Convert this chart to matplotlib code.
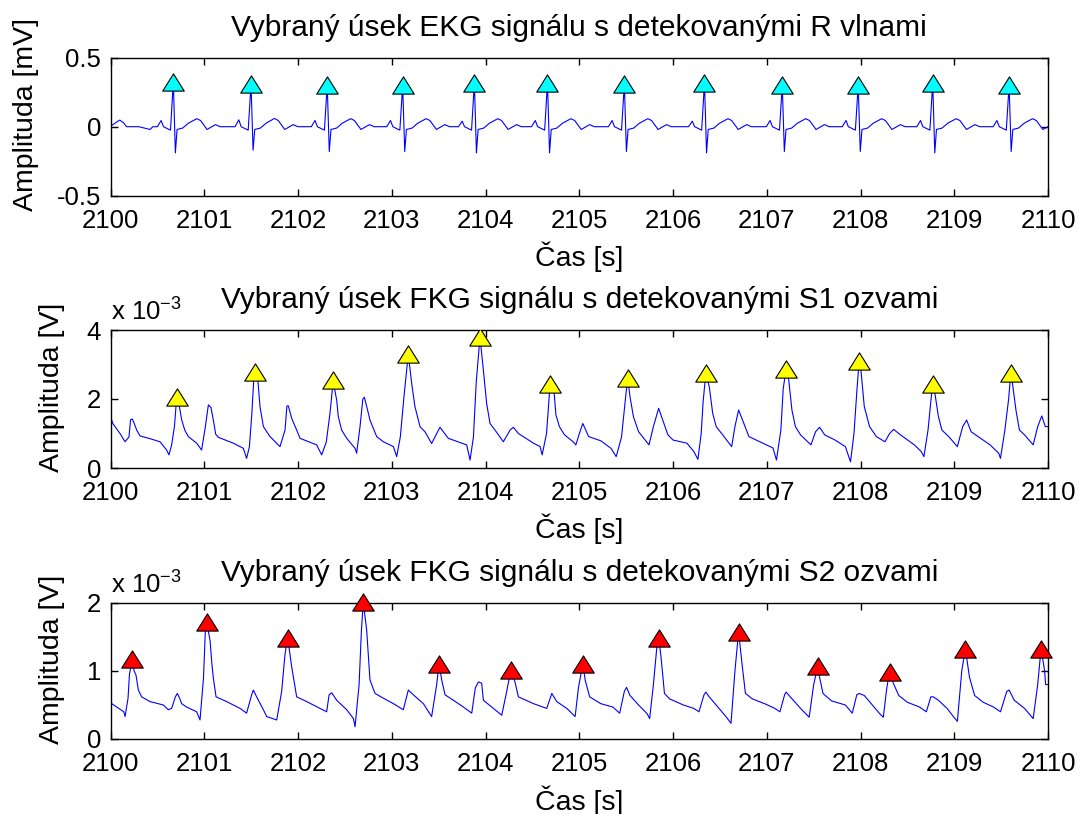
import matplotlib
matplotlib.use("Agg")
import matplotlib.pyplot as plt
from matplotlib.path import Path
from matplotlib.ticker import FuncFormatter

plt.rcParams['font.family'] = ['Liberation Sans', 'DejaVu Sans']
plt.rcParams['mathtext.fontset'] = 'custom'
plt.rcParams['mathtext.rm'] = 'Liberation Sans'
plt.rcParams['mathtext.it'] = 'Liberation Sans'
plt.rcParams['axes.unicode_minus'] = False

T0 = 2100
x_ticks = list(range(2100, 2111))

titles = ["Vybraný úsek EKG signálu s detekovanými R vlnami",
          "Vybraný úsek FKG signálu s detekovanými S1 ozvami",
          "Vybraný úsek FKG signálu s detekovanými S2 ozvami"]
ylabels = ["Amplituda [mV]", "Amplituda [V]", "Amplituda [V]"]
xlabel = "Čas [s]"

# ---------------- EKG signal (time since 2100 s, mV) ----------------
ekg_t = [0.000, 0.045, 0.096, 0.135, 0.170, 0.300, 0.420, 0.450,
         0.498, 0.538, 0.563, 0.638, 0.668, 0.690, 0.708, 0.768, 0.828, 0.918, 0.958, 1.028, 1.118, 1.168,
         1.327, 1.367, 1.392, 1.467, 1.497, 1.519, 1.537, 1.597, 1.657, 1.747, 1.787, 1.857, 1.947, 1.997,
         2.140, 2.180, 2.205, 2.280, 2.310, 2.332, 2.350, 2.410, 2.470, 2.560, 2.600, 2.670, 2.760, 2.810,
         2.945, 2.985, 3.010, 3.085, 3.115, 3.137, 3.155, 3.215, 3.275, 3.365, 3.405, 3.475, 3.565, 3.615,
         3.710, 3.750, 3.775, 3.850, 3.880, 3.902, 3.920, 3.980, 4.040, 4.130, 4.170, 4.240, 4.330, 4.380,
         4.490, 4.530, 4.555, 4.630, 4.660, 4.682, 4.700, 4.760, 4.820, 4.910, 4.950, 5.020, 5.110, 5.160,
         5.310, 5.350, 5.375, 5.450, 5.480, 5.502, 5.520, 5.580, 5.640, 5.730, 5.770, 5.840, 5.930, 5.980,
         6.165, 6.205, 6.230, 6.305, 6.335, 6.357, 6.375, 6.435, 6.495, 6.585, 6.625, 6.695, 6.785, 6.835,
         6.995, 7.035, 7.060, 7.135, 7.165, 7.187, 7.205, 7.265, 7.325, 7.415, 7.455, 7.525, 7.615, 7.665,
         7.805, 7.845, 7.870, 7.945, 7.975, 7.997, 8.015, 8.075, 8.135, 8.225, 8.265, 8.335, 8.425, 8.475,
         8.600, 8.640, 8.665, 8.740, 8.770, 8.792, 8.810, 8.870, 8.930, 9.020, 9.060, 9.130, 9.220, 9.270,
         9.415, 9.455, 9.480, 9.555, 9.585, 9.607, 9.625, 9.685, 9.745, 9.835, 9.875, 9.945, 10.000]
ekg_v = [0.005, 0.025, 0.048, 0.030, 0.000, 0.000, -0.020, 0.000,
         0.000, 0.045, 0.000, -0.025, 0.326, -0.190, -0.020, -0.010, 0.025, 0.058, 0.045, -0.020, 0.015, 0.000,
         0.000, 0.050, 0.000, -0.025, 0.311, -0.170, -0.020, -0.010, 0.025, 0.060, 0.045, -0.020, 0.015, 0.000,
         0.000, 0.045, 0.000, -0.025, 0.300, -0.180, -0.020, -0.010, 0.025, 0.058, 0.045, -0.020, 0.015, 0.000,
         0.000, 0.045, 0.000, -0.025, 0.300, -0.180, -0.020, -0.010, 0.025, 0.058, 0.045, -0.020, 0.015, 0.000,
         0.000, 0.040, 0.000, -0.025, 0.320, -0.190, -0.020, -0.010, 0.025, 0.058, 0.045, -0.020, 0.015, 0.000,
         0.000, 0.045, 0.000, -0.025, 0.320, -0.190, -0.020, -0.010, 0.025, 0.058, 0.045, -0.020, 0.015, 0.000,
         0.000, 0.045, 0.000, -0.025, 0.310, -0.180, -0.020, -0.010, 0.025, 0.058, 0.045, -0.020, 0.015, 0.000,
         0.000, 0.040, 0.000, -0.025, 0.320, -0.190, -0.020, -0.010, 0.025, 0.058, 0.045, -0.020, 0.015, 0.000,
         0.000, 0.045, 0.000, -0.025, 0.300, -0.180, -0.020, -0.010, 0.025, 0.058, 0.045, -0.020, 0.015, 0.000,
         0.000, 0.045, 0.000, -0.025, 0.300, -0.180, -0.020, -0.010, 0.025, 0.058, 0.045, -0.020, 0.015, 0.000,
         0.000, 0.045, 0.000, -0.025, 0.320, -0.190, -0.020, -0.010, 0.025, 0.058, 0.045, -0.020, 0.015, 0.000,
         0.000, 0.045, 0.000, -0.025, 0.300, -0.180, -0.020, -0.010, 0.025, 0.058, 0.045, -0.020, 0.000]

# detected R waves
r_t = [0.668, 1.497, 2.310, 3.115, 3.880, 4.660, 5.480, 6.335, 7.165, 7.975, 8.770, 9.585]
r_v = [0.326, 0.311, 0.300, 0.300, 0.320, 0.320, 0.310, 0.320, 0.300, 0.300, 0.320, 0.300]

# ---------------- FKG signal, S1 view (time since 2100 s, V x 1e-3) ----------------
fkg1 = [(0.000, 1.49), (0.020, 1.30), (0.099, 1.00), (0.153, 0.76), (0.195, 0.90), (0.212, 1.40),
        (0.231, 1.42), (0.250, 1.30), (0.277, 1.10), (0.313, 0.93), (0.419, 0.85), (0.526, 0.76),
        (0.597, 0.52), (0.622, 0.38), (0.650, 0.67), (0.680, 1.20), (0.697, 1.80), (0.711, 2.05),
        (0.735, 1.75), (0.757, 1.40), (0.790, 1.10), (0.828, 0.91), (0.917, 0.72), (0.970, 0.52),
        (1.010, 1.20), (1.042, 1.83), (1.070, 1.75), (1.095, 1.39), (1.120, 0.98), (1.148, 0.89),
        (1.308, 0.72), (1.415, 0.57), (1.450, 0.28), (1.480, 0.62), (1.504, 1.50), (1.525, 2.50),
        (1.543, 2.79), (1.570, 2.55), (1.593, 1.78), (1.629, 1.20), (1.700, 0.91), (1.806, 0.62),
        (1.860, 1.10), (1.880, 1.80), (1.895, 1.80), (1.931, 1.44), (1.984, 1.10), (2.020, 0.86),
        (2.197, 0.67), (2.251, 0.38), (2.300, 0.75), (2.340, 1.60), (2.375, 2.55), (2.395, 2.20),
        (2.411, 1.97), (2.428, 1.49), (2.464, 1.10), (2.518, 0.86), (2.607, 0.57), (2.624, 0.43),
        (2.660, 1.20), (2.690, 2.00), (2.706, 2.05), (2.730, 1.80), (2.766, 1.39), (2.838, 0.91),
        (2.909, 0.76), (3.016, 0.62), (3.051, 0.33), (3.090, 0.90), (3.130, 2.10), (3.175, 3.30),
        (3.211, 2.45), (3.246, 1.78), (3.300, 1.20), (3.353, 1.05), (3.424, 0.71), (3.478, 1.00),
        (3.513, 1.18), (3.549, 1.05), (3.602, 0.86), (3.798, 0.67), (3.834, 0.23), (3.870, 0.90),
        (3.900, 2.50), (3.940, 3.79), (3.976, 2.84), (4.011, 1.87), (4.047, 1.29), (4.100, 1.10),
        (4.189, 0.76), (4.261, 1.10), (4.296, 1.18), (4.350, 1.00), (4.510, 0.72), (4.581, 0.62),
        (4.603, 0.38), (4.650, 1.00), (4.688, 2.43), (4.732, 2.15), (4.750, 1.54), (4.787, 1.20),
        (4.842, 0.96), (4.934, 0.76), (4.963, 0.67), (5.000, 1.00), (5.037, 1.29), (5.099, 0.91),
        (5.228, 0.79), (5.338, 0.57), (5.393, 0.33), (5.450, 0.90), (5.480, 1.70), (5.515, 2.62),
        (5.540, 2.07), (5.577, 1.49), (5.632, 1.05), (5.743, 0.67), (5.790, 1.20), (5.846, 1.73),
        (5.890, 1.39), (5.945, 0.96), (6.000, 0.81), (6.147, 0.72), (6.221, 0.48), (6.265, 0.25),
        (6.300, 1.00), (6.320, 1.90), (6.349, 2.74), (6.386, 2.36), (6.423, 1.58), (6.460, 1.20),
        (6.515, 1.01), (6.625, 0.62), (6.660, 1.20), (6.699, 1.68), (6.754, 1.30), (6.809, 0.91),
        (6.919, 0.77), (7.066, 0.58), (7.103, 0.23), (7.150, 1.10), (7.175, 2.30), (7.206, 2.87),
        (7.232, 2.60), (7.268, 1.68), (7.305, 1.20), (7.360, 0.96), (7.471, 0.67), (7.520, 1.05),
        (7.563, 1.18), (7.618, 0.96), (7.728, 0.81), (7.838, 0.62), (7.893, 0.18), (7.930, 1.00),
        (7.960, 2.20), (7.985, 3.11), (8.004, 2.84), (8.040, 1.78), (8.096, 1.20), (8.169, 0.91),
        (8.261, 0.76), (8.310, 1.00), (8.353, 1.12), (8.426, 0.96), (8.574, 0.67), (8.647, 0.48),
        (8.676, 0.33), (8.720, 1.10), (8.768, 2.43), (8.794, 2.15), (8.831, 1.49), (8.868, 1.10),
        (8.941, 0.91), (9.033, 0.62), (9.090, 1.20), (9.132, 1.39), (9.180, 1.05), (9.254, 0.91),
        (9.382, 0.67), (9.474, 0.43), (9.493, 0.28), (9.540, 1.10), (9.580, 2.00), (9.603, 2.74),
        (9.621, 2.45), (9.658, 1.68), (9.695, 1.10), (9.750, 0.96), (9.842, 0.67), (9.890, 1.20),
        (9.934, 1.51), (9.971, 1.20), (10.000, 1.20)]

# detected S1 sounds (V x 1e-3)
s1_t = [0.711, 1.543, 2.375, 3.175, 3.940, 4.688, 5.515, 6.349, 7.206, 7.985, 8.768, 9.603]
s1_v = [2.05, 2.79, 2.55, 3.30, 3.79, 2.43, 2.62, 2.74, 2.87, 3.11, 2.43, 2.74]

# ---------------- FKG signal, S2 view (time since 2100 s, V x 1e-3) ----------------
fkg2 = [(0.000, 0.53), (0.064, 0.47), (0.140, 0.40), (0.153, 0.33), (0.185, 0.60), (0.200, 0.95),
        (0.231, 1.17), (0.250, 1.00), (0.270, 0.94), (0.295, 0.72), (0.330, 0.62), (0.419, 0.55),
        (0.562, 0.50), (0.615, 0.43), (0.650, 0.45), (0.690, 0.62), (0.711, 0.67), (0.735, 0.60),
        (0.757, 0.52), (0.810, 0.47), (0.917, 0.40), (0.953, 0.28), (0.990, 0.90), (1.010, 1.60),
        (1.024, 1.72), (1.060, 1.45), (1.080, 1.10), (1.095, 0.90), (1.124, 0.62), (1.237, 0.55),
        (1.380, 0.45), (1.450, 0.38), (1.504, 0.65), (1.522, 0.72), (1.557, 0.62), (1.629, 0.43),
        (1.664, 0.33), (1.771, 0.28), (1.824, 0.70), (1.860, 1.25), (1.888, 1.49), (1.931, 1.06),
        (1.984, 0.62), (2.091, 0.55), (2.233, 0.45), (2.304, 0.40), (2.330, 0.65), (2.358, 0.68),
        (2.411, 0.57), (2.518, 0.43), (2.590, 0.30), (2.607, 0.18), (2.650, 0.80), (2.675, 1.60),
        (2.695, 2.01), (2.731, 1.60), (2.766, 0.87), (2.820, 0.67), (2.909, 0.60), (3.016, 0.52),
        (3.122, 0.43), (3.175, 0.72), (3.229, 0.65), (3.336, 0.52), (3.424, 0.33), (3.478, 0.80),
        (3.503, 1.11), (3.531, 0.87), (3.567, 0.65), (3.656, 0.57), (3.763, 0.47), (3.852, 0.38),
        (3.890, 0.75), (3.923, 0.84), (3.958, 0.82), (3.976, 0.57), (4.083, 0.45), (4.172, 0.35),
        (4.225, 0.70), (4.268, 1.01), (4.313, 0.84), (4.350, 0.62), (4.510, 0.52), (4.652, 0.45),
        (4.706, 0.67), (4.759, 0.55), (4.866, 0.45), (4.955, 0.33), (4.990, 0.75), (5.037, 1.11),
        (5.063, 0.86), (5.110, 0.62), (5.228, 0.52), (5.357, 0.47), (5.430, 0.38), (5.480, 0.70),
        (5.504, 0.76), (5.540, 0.64), (5.632, 0.50), (5.724, 0.37), (5.750, 0.30), (5.790, 0.80),
        (5.830, 1.40), (5.846, 1.49), (5.871, 1.21), (5.908, 0.67), (5.963, 0.59), (6.110, 0.50),
        (6.221, 0.45), (6.276, 0.40), (6.330, 0.65), (6.349, 0.69), (6.386, 0.62), (6.478, 0.47),
        (6.570, 0.32), (6.618, 0.23), (6.660, 1.00), (6.699, 1.58), (6.735, 1.11), (6.772, 0.67),
        (6.846, 0.59), (6.993, 0.51), (7.085, 0.45), (7.140, 0.40), (7.190, 0.65), (7.206, 0.69),
        (7.250, 0.62), (7.360, 0.45), (7.452, 0.32), (7.500, 0.80), (7.544, 1.07), (7.563, 0.91),
        (7.599, 0.67), (7.691, 0.56), (7.838, 0.50), (7.912, 0.38), (7.960, 0.65), (7.985, 0.67),
        (8.040, 0.64), (8.114, 0.52), (8.206, 0.37), (8.243, 0.32), (8.280, 0.75), (8.309, 0.99),
        (8.353, 0.81), (8.408, 0.64), (8.500, 0.54), (8.629, 0.47), (8.702, 0.40), (8.750, 0.62),
        (8.776, 0.62), (8.831, 0.57), (8.923, 0.45), (8.996, 0.32), (9.033, 0.26), (9.080, 1.00),
        (9.118, 1.33), (9.162, 0.91), (9.217, 0.64), (9.309, 0.54), (9.419, 0.47), (9.493, 0.40),
        (9.560, 0.70), (9.585, 0.72), (9.640, 0.57), (9.750, 0.45), (9.842, 0.30), (9.890, 0.80),
        (9.926, 1.33), (9.963, 1.01), (9.975, 0.80), (10.000, 0.80)]

# detected S2 sounds (V x 1e-3)
s2_t = [0.231, 1.024, 1.888, 2.695, 3.503, 4.268, 5.037, 5.846, 6.699, 7.544, 8.309, 9.118, 9.926]
s2_v = [1.17, 1.72, 1.49, 2.01, 1.11, 1.01, 1.11, 1.49, 1.58, 1.07, 0.99, 1.33, 1.33]

# ---------------- drawing ----------------
FS_TICK = 18.5
FS_LAB = 20.5
FS_TITLE = 21.5
W, H = 1084, 814
fig = plt.figure(figsize=(W / 100, H / 100), dpi=100)

left_px, right_px = 110.7, 1048.0
panels_px = [(57.7, 195.7), (330.0, 468.0), (603.0, 739.0)]
axes = []
for top, bot in panels_px:
    ax = fig.add_axes([left_px / W, 1 - bot / H, (right_px - left_px) / W, (bot - top) / H])
    axes.append(ax)

tri = Path([(-1.0, -0.8), (1.0, -0.8), (0.0, 0.8), (-1.0, -0.8)],
           [Path.MOVETO, Path.LINETO, Path.LINETO, Path.CLOSEPOLY])


def style(ax, idx, yfmt, ylim, yticks, ylab_x):
    top, bot = panels_px[idx]
    hpx = bot - top
    ax.set_xlim(2100, 2110)
    ax.set_ylim(*ylim)
    ax.set_xticks(x_ticks)
    ax.set_yticks(yticks)
    ax.yaxis.set_major_formatter(FuncFormatter(yfmt))
    ax.tick_params(direction='in', top=True, right=True, length=5, width=1.0,
                   labelsize=FS_TICK, colors='black')
    ax.tick_params(axis='x', pad=9.5)
    ax.tick_params(axis='y', pad=7)
    for sp in ax.spines.values():
        sp.set_linewidth(1.0)
    ax.set_title(titles[idx], fontsize=FS_TITLE, pad=15.5)
    ax.set_xlabel(xlabel, fontsize=FS_LAB)
    ax.xaxis.set_label_coords(0.5, -46.0 / hpx)
    ax.set_ylabel(ylabels[idx], fontsize=FS_LAB)
    ax.yaxis.set_label_coords(ylab_x, 0.5 + 12.0 / hpx)


# panel 1: EKG
ax = axes[0]
ax.plot([T0 + t for t in ekg_t], ekg_v, color='#0000ff', lw=0.8, zorder=2)
ax.plot([T0 + t for t in r_t], r_v, linestyle='none', marker=tri, markersize=15.5,
        markerfacecolor='#00ffff', markeredgecolor='black', markeredgewidth=0.8, zorder=3)
style(ax, 0, lambda v, p: ('%g' % v), (-0.5, 0.5), [-0.5, 0, 0.5], -0.076)

# panel 2: FKG S1
ax = axes[1]
f1t, f1v = zip(*fkg1)
ax.plot([T0 + t for t in f1t], [v * 1e-3 for v in f1v], color='#0000ff', lw=0.8, zorder=2)
ax.plot([T0 + t for t in s1_t], [v * 1e-3 for v in s1_v], linestyle='none', marker=tri,
        markersize=15.5, markerfacecolor='#ffff00', markeredgecolor='black',
        markeredgewidth=0.8, zorder=3)
style(ax, 1, lambda v, p: ('%g' % round(v * 1e3, 6)), (0, 4e-3), [0, 2e-3, 4e-3], -0.049)
ax.text(0.0, 1.035, r'x 10$^{-3}$', transform=ax.transAxes, ha='left', va='bottom',
        fontsize=FS_TICK)

# panel 3: FKG S2
ax = axes[2]
f2t, f2v = zip(*fkg2)
ax.plot([T0 + t for t in f2t], [v * 1e-3 for v in f2v], color='#0000ff', lw=0.8, zorder=2)
ax.plot([T0 + t for t in s2_t], [v * 1e-3 for v in s2_v], linestyle='none', marker=tri,
        markersize=15.5, markerfacecolor='#ff0000', markeredgecolor='black',
        markeredgewidth=0.8, zorder=3, clip_on=False)
style(ax, 2, lambda v, p: ('%g' % round(v * 1e3, 6)), (0, 2e-3), [0, 1e-3, 2e-3], -0.049)
ax.text(0.0, 1.035, r'x 10$^{-3}$', transform=ax.transAxes, ha='left', va='bottom',
        fontsize=FS_TICK)

fig.savefig('out.png', dpi=100, facecolor='white')
